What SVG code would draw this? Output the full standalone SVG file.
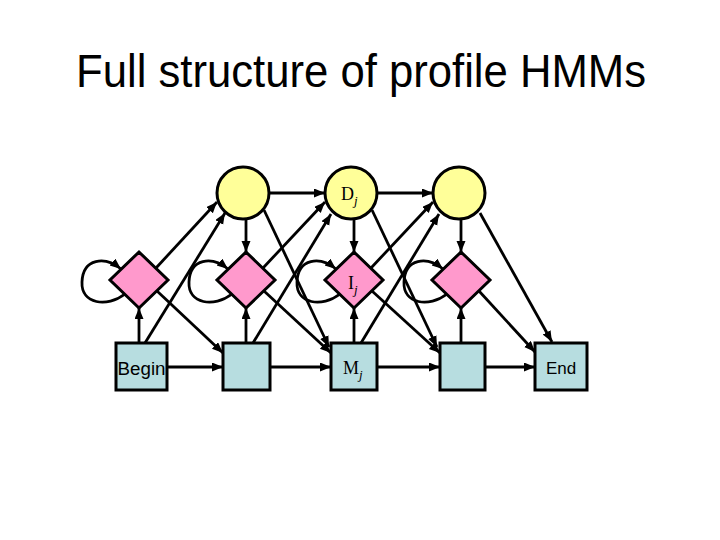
<svg xmlns="http://www.w3.org/2000/svg" width="720" height="540" viewBox="0 0 720 540">
<defs>
<marker id="ah" markerUnits="userSpaceOnUse" markerWidth="12" markerHeight="10" refX="11" refY="4.5" orient="auto">
<path d="M0,0 L11,4.5 L0,9 z" fill="#000"/>
</marker>
<style>
.d{fill:#FFFF99;stroke:#000;stroke-width:3}
.i{fill:#FF99CC;stroke:#000;stroke-width:3}
.m{fill:#B7DDE0;stroke:#000;stroke-width:3}
.c line,.c path{stroke:#000;stroke-width:2.8;fill:none;marker-end:url(#ah)}
.sans{font-family:"Liberation Sans",Arial,sans-serif;fill:#000}
.ser{font-family:"Liberation Serif","Times New Roman",serif;fill:#000;font-size:18px}
.sub{font-style:italic;font-size:13px}
</style>
</defs>
<rect width="720" height="540" fill="#fff"/>
<text class="sans" x="76" y="87" font-size="46" textLength="570" lengthAdjust="spacingAndGlyphs">Full structure of profile HMMs</text>

<g id="D1"><circle class="d" cx="243" cy="193" r="26"/></g>
<g id="D2"><circle class="d" cx="351" cy="193" r="26"/><text class="ser" x="341" y="200">D<tspan class="sub" dy="5">j</tspan></text></g>
<g id="D3"><circle class="d" cx="459" cy="193" r="26"/></g>

<g id="I0"><polygon class="i" points="139,252 168,280 139,308 110,280"/></g>
<g id="I1"><polygon class="i" points="246,252 275,280 246,308 217,280"/></g>
<g id="I2"><polygon class="i" points="354,252 383,280 354,308 325,280"/><text class="ser" x="348" y="289">I<tspan class="sub" dy="5">j</tspan></text></g>
<g id="I3"><polygon class="i" points="461,252 490,280 461,308 432,280"/></g>

<g id="Begin"><rect class="m" x="116" y="343" width="51" height="47"/><text class="sans" x="141.5" y="375" font-size="18" text-anchor="middle" textLength="48" lengthAdjust="spacingAndGlyphs">Begin</text></g>
<g id="M1"><rect class="m" x="223" y="343" width="47" height="47"/></g>
<g id="M2"><rect class="m" x="331" y="343" width="46" height="47"/><text class="ser" x="343" y="374">M<tspan class="sub" dy="5">j</tspan></text></g>
<g id="M3"><rect class="m" x="440" y="343" width="45" height="47"/></g>
<g id="End"><rect class="m" x="535" y="343" width="52" height="47"/><text class="sans" x="561" y="374" font-size="17" text-anchor="middle">End</text></g>

<g id="connectors" class="c">
<line x1="167" y1="367" x2="223" y2="367"/>
<line x1="270" y1="367" x2="331" y2="367"/>
<line x1="377" y1="367" x2="440" y2="367"/>
<line x1="485" y1="367" x2="535" y2="367"/>
<line x1="269" y1="193" x2="325" y2="193"/>
<line x1="377" y1="193" x2="433" y2="193"/>
<line x1="246" y1="219" x2="246" y2="252"/>
<line x1="354" y1="219" x2="354" y2="252"/>
<line x1="461" y1="219" x2="461" y2="252"/>
<line x1="139" y1="343" x2="139" y2="308"/>
<line x1="246" y1="343" x2="246" y2="308"/>
<line x1="354" y1="343" x2="354" y2="308"/>
<line x1="461" y1="343" x2="461" y2="308"/>
<line x1="145" y1="343" x2="225" y2="213"/>
<line x1="253" y1="343" x2="331" y2="214"/>
<line x1="361" y1="343" x2="439" y2="214"/>
<line x1="156" y1="268" x2="217" y2="202"/>
<line x1="263" y1="268" x2="325" y2="202"/>
<line x1="371" y1="268" x2="433" y2="202"/>
<line x1="264" y1="210" x2="329" y2="347"/>
<line x1="372" y1="210" x2="437" y2="347"/>
<line x1="480" y1="213" x2="552" y2="342"/>
<line x1="157" y1="291" x2="223" y2="353"/>
<line x1="264" y1="291" x2="331" y2="353"/>
<line x1="372" y1="291" x2="440" y2="353"/>
<line x1="479" y1="291" x2="535" y2="352"/>
<path d="M125,294 C107,308 81,304 82,282 C83,258 105,256 121,269"/>
<path d="M232,294 C214,308 188,304 189,282 C190,258 212,256 228,269"/>
<path d="M340,294 C322,308 296,304 297,282 C298,258 320,256 336,269"/>
<path d="M447,294 C429,308 403,304 404,282 C405,258 427,256 443,269"/>
</g>
</svg>
